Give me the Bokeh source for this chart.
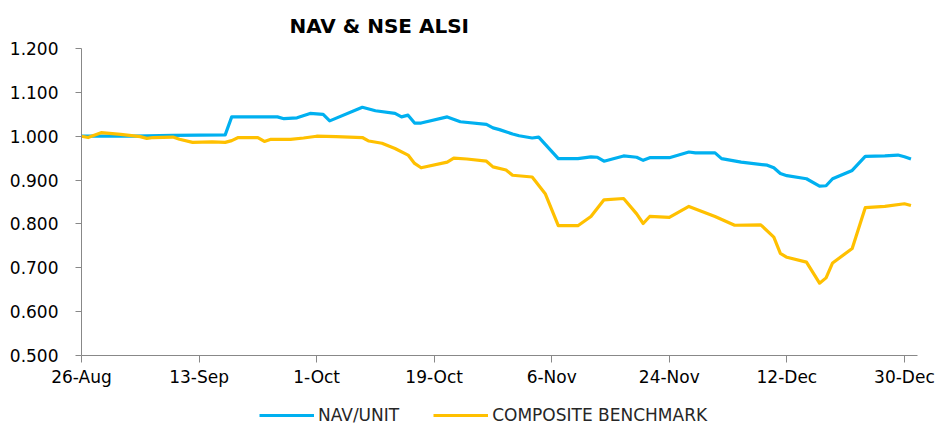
import pandas as pd
from bokeh.plotting import figure
from bokeh.layouts import column
from bokeh.models import (ColumnDataSource, Range1d, FixedTicker, NumeralTickFormatter,
                          DatetimeTickFormatter, Legend, LegendItem, Title)
from bokeh.embed import file_html
from bokeh.resources import INLINE

# ---- data ----
nav_dates = ["2019-08-26", "2019-09-03", "2019-09-09", "2019-09-17", "2019-09-18", "2019-09-25",
             "2019-09-26", "2019-09-28", "2019-09-30", "2019-10-02", "2019-10-03", "2019-10-08",
             "2019-10-10", "2019-10-13", "2019-10-14", "2019-10-15", "2019-10-16", "2019-10-17",
             "2019-10-21", "2019-10-23", "2019-10-27", "2019-10-28", "2019-10-29", "2019-10-31",
             "2019-11-01", "2019-11-03", "2019-11-04", "2019-11-07", "2019-11-10", "2019-11-12",
             "2019-11-13", "2019-11-14", "2019-11-17", "2019-11-19", "2019-11-20", "2019-11-21",
             "2019-11-24", "2019-11-27", "2019-11-28", "2019-12-01", "2019-12-02", "2019-12-05",
             "2019-12-09", "2019-12-10", "2019-12-11", "2019-12-12", "2019-12-15", "2019-12-17",
             "2019-12-18", "2019-12-19", "2019-12-22", "2019-12-24", "2019-12-27", "2019-12-29",
             "2019-12-30", "2019-12-31"]
nav_values = [1.000, 1.000, 1.002, 1.003, 1.044, 1.044,
              1.040, 1.042, 1.052, 1.050, 1.035, 1.066,
              1.058, 1.052, 1.044, 1.048, 1.030, 1.030,
              1.044, 1.033, 1.027, 1.019, 1.015, 1.005,
              1.001, 0.996, 0.998, 0.949, 0.949, 0.953,
              0.952, 0.943, 0.955, 0.952, 0.945, 0.951,
              0.951, 0.964, 0.962, 0.962, 0.949, 0.941,
              0.934, 0.928, 0.915, 0.910, 0.903, 0.886,
              0.887, 0.903, 0.922, 0.954, 0.955, 0.957,
              0.953, 0.948]

bm_dates = ["2019-08-26", "2019-08-27", "2019-08-29", "2019-09-01", "2019-09-04", "2019-09-05",
            "2019-09-06", "2019-09-09", "2019-09-10", "2019-09-12", "2019-09-15", "2019-09-17",
            "2019-09-18", "2019-09-19", "2019-09-22", "2019-09-23", "2019-09-24", "2019-09-27",
            "2019-09-29", "2019-10-01", "2019-10-04", "2019-10-08", "2019-10-09", "2019-10-11",
            "2019-10-13", "2019-10-15", "2019-10-16", "2019-10-17", "2019-10-21", "2019-10-22",
            "2019-10-24", "2019-10-27", "2019-10-28", "2019-10-30", "2019-10-31", "2019-11-03",
            "2019-11-05", "2019-11-07", "2019-11-10", "2019-11-12", "2019-11-14", "2019-11-17",
            "2019-11-19", "2019-11-20", "2019-11-21", "2019-11-24", "2019-11-27", "2019-12-01",
            "2019-12-04", "2019-12-08", "2019-12-10", "2019-12-11", "2019-12-12", "2019-12-15",
            "2019-12-17", "2019-12-18", "2019-12-19", "2019-12-22", "2019-12-24", "2019-12-27",
            "2019-12-30", "2019-12-31"]
bm_values = [1.000, 0.997, 1.008, 1.004, 0.999, 0.995,
             0.997, 0.998, 0.993, 0.986, 0.987, 0.986,
             0.990, 0.997, 0.997, 0.988, 0.993, 0.993,
             0.996, 1.000, 0.999, 0.997, 0.989, 0.984,
             0.972, 0.957, 0.938, 0.928, 0.941, 0.950,
             0.948, 0.943, 0.930, 0.923, 0.911, 0.907,
             0.869, 0.796, 0.796, 0.817, 0.855, 0.858,
             0.823, 0.801, 0.817, 0.815, 0.840, 0.817,
             0.797, 0.798, 0.770, 0.733, 0.724, 0.713,
             0.665, 0.677, 0.711, 0.744, 0.837, 0.840,
             0.846, 0.842]

x_tick_dates = ["2019-08-26", "2019-09-13", "2019-10-01", "2019-10-19",
                "2019-11-06", "2019-11-24", "2019-12-12", "2019-12-30"]
y_ticks = [0.5, 0.6, 0.7, 0.8, 0.9, 1.0, 1.1, 1.2]
x_start, x_end = "2019-08-26", "2020-01-01"

series_names = ["NAV/UNIT", "COMPOSITE BENCHMARK"]
series_colors = ["#00B0F0", "#FFC000"]
title_text = "NAV & NSE ALSI"

# ---- main figure ----
FONT = "DejaVu Sans"
p = figure(width=940, height=390, output_backend="svg", toolbar_location=None,
           x_axis_type="datetime",
           x_range=Range1d(pd.Timestamp(x_start), pd.Timestamp(x_end)),
           y_range=Range1d(0.5, 1.2),
           min_border_left=81, min_border_right=23, min_border_top=48, min_border_bottom=35)
p.outline_line_color = None
p.xgrid.visible = False
p.ygrid.visible = False

p.title = Title(text=title_text, align="left", offset=208, text_font=FONT,
                text_font_size="20px", text_font_style="bold", text_color="#000000", standoff=21)

nav_src = ColumnDataSource(dict(x=pd.to_datetime(nav_dates), y=nav_values))
bm_src = ColumnDataSource(dict(x=pd.to_datetime(bm_dates), y=bm_values))
p.line("x", "y", source=nav_src, line_color=series_colors[0], line_width=3.2, line_join="round")
p.line("x", "y", source=bm_src, line_color=series_colors[1], line_width=3.2, line_join="round")

for ax in (p.xaxis[0], p.yaxis[0]):
    ax.axis_line_color = "#888888"
    ax.major_tick_line_color = "#888888"
    ax.minor_tick_line_color = None
    ax.major_tick_in = 0
    ax.major_label_text_font = FONT
    ax.major_label_text_font_size = "17px"
    ax.major_label_text_color = "#000000"

p.xaxis[0].ticker = FixedTicker(ticks=[pd.Timestamp(d).value / 1e6 for d in x_tick_dates])
p.xaxis[0].formatter = DatetimeTickFormatter(days="%-d-%b", months="%-d-%b", years="%-d-%b")
p.xaxis[0].major_tick_out = 7
p.xaxis[0].major_label_standoff = 4

p.yaxis[0].ticker = FixedTicker(ticks=y_ticks)
p.yaxis[0].formatter = NumeralTickFormatter(format="0.000")
p.yaxis[0].major_tick_out = 6
p.yaxis[0].major_label_standoff = 17

# ---- legend strip below (lines lie outside its ranges, only the legend shows) ----
lg = figure(width=940, height=35, output_backend="svg", toolbar_location=None,
            x_axis_type="datetime",
            x_range=Range1d(pd.Timestamp(x_start), pd.Timestamp(x_end)),
            y_range=Range1d(10, 11),
            min_border_left=0, min_border_right=0, min_border_top=0, min_border_bottom=0)
lg.axis.visible = False
lg.grid.visible = False
lg.outline_line_color = None
l_nav = lg.line("x", "y", source=nav_src, line_color=series_colors[0], line_width=3.2)
l_bm = lg.line("x", "y", source=bm_src, line_color=series_colors[1], line_width=3.2)

legend = Legend(items=[LegendItem(label=series_names[0], renderers=[l_nav]),
                       LegendItem(label=series_names[1], renderers=[l_bm])],
                orientation="horizontal", location=(178, 0),
                glyph_width=55, glyph_height=18, label_standoff=4, spacing=34,
                padding=0, margin=0, border_line_color=None, background_fill_alpha=0,
                label_text_font=FONT, label_text_font_size="17px", label_text_color="#262626",
                label_height=18)
lg.add_layout(legend, "center")

open("out.html", "w").write(file_html(column(p, lg, spacing=0), INLINE))
